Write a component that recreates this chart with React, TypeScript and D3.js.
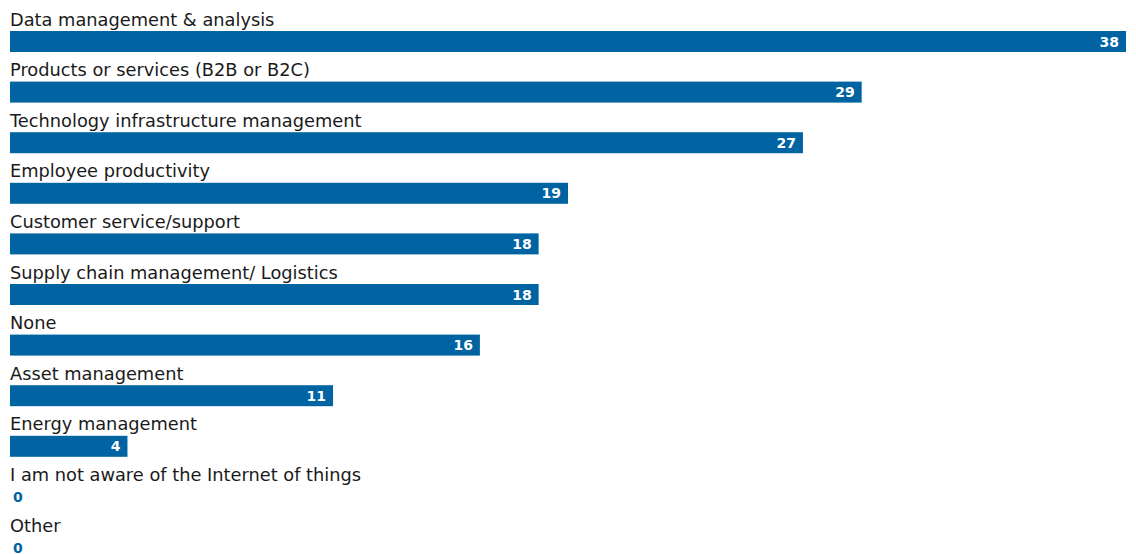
import React from "react";
import * as d3 from "d3";

const categories = [
  "Data management & analysis",
  "Products or services (B2B or B2C)",
  "Technology infrastructure management",
  "Employee productivity",
  "Customer service/support",
  "Supply chain management/ Logistics",
  "None",
  "Asset management",
  "Energy management",
  "I am not aware of the Internet of things",
  "Other",
];
const values = [38, 29, 27, 19, 18, 18, 16, 11, 4, 0, 0];

const W = 1136;
const H = 554;
const BAR_COLOR = "#0064A3";

export default function App() {
  const x = d3.scaleLinear().domain([0, 38]).range([10, 1126]);
  const y = d3
    .scaleBand<string>()
    .domain(categories)
    .range([0, 50.6 * categories.length]);
  const font = "'DejaVu Sans', 'Noto Sans', sans-serif";
  return (
    <svg
      width={W}
      height={H}
      style={{ position: "absolute", left: 0, top: 0, background: "#fff" }}
    >
      {categories.map((c, i) => {
        const top = y(c)!;
        const v = values[i];
        return (
          <g key={c}>
            <text
              x={10}
              y={top + 25.5}
              fontFamily={font}
              fontSize={17.8}
              fill="#1a1a1a"
            >
              {c}
            </text>
            {v > 0 && (
              <rect
                x={x(0)}
                y={top + 31}
                width={x(v) - x(0)}
                height={21}
                fill={BAR_COLOR}
              />
            )}
            <text
              x={v > 0 ? x(v) - 7 : x(0) + 3}
              y={top + 46.5}
              textAnchor={v > 0 ? "end" : "start"}
              fontFamily={font}
              fontWeight="bold"
              fontSize={14}
              fill={v > 0 ? "#ffffff" : BAR_COLOR}
            >
              {v}
            </text>
          </g>
        );
      })}
    </svg>
  );
}
